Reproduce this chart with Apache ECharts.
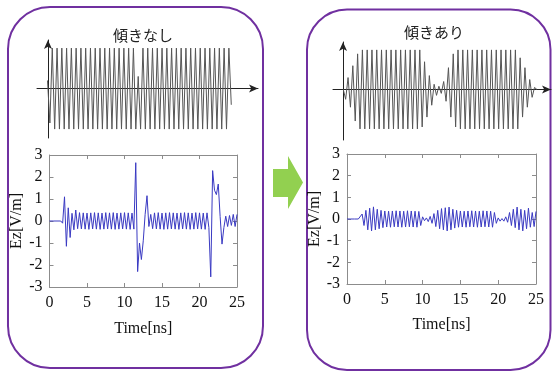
<!DOCTYPE html>
<html>
<head>
<meta charset="utf-8">
<script src="https://cdn.jsdelivr.net/npm/echarts@6/dist/echarts.min.js"></script>
<style>
html, body { margin: 0; padding: 0; background: #fff; }
#main { width: 552px; height: 373px; }
</style>
</head>
<body>
<div id="main"></div>
<script>
// panel titles
const titles = ['傾きなし', '傾きあり'];

// sketch waveforms (top of each panel), one value per half cycle
const sketchStep = 0.5;
const sketchNoTiltStart = -0.1;
const sketchNoTilt = [
  0.2, -0.85,
  1, -1, 1, -1, 1, -1, 1, -1, 1, -1, 1, -1, 1, -1, 1, -1, 1, -1, 1, -1, 1, -1, 1, -1,
  1, -1, 1, -1, 1, -1, 1, -1, 1, -1, 1, -1,
  0.3, -1,
  1, -1, 1, -1, 1, -1, 1, -1, 1, -1, 1, -1, 1, -1, 1, -1, 1, -1, 1, -1, 1, -1, 1, -1,
  1, -1, 1, -1, 1, -1, 1, -1, 1, -1, 1, -1,
  1, -0.4
];
const sketchTiltStart = 0.05;
const sketchTilt = [
  0, -0.25, 0.3, -0.45, 0.6, -0.8, 0.9, -1, 1,
  -1, 1, -1, 1, -1, 1, -1, 1, -1, 1, -1, 1, -1, 1, -1, 1, -1, 1, -1, 1, -1, 1, -1, 1,
  -0.95, 0.7, -0.7, 0.35, -0.4, 0.13, -0.15, 0.08, -0.1, 0.2, -0.3, 0.55, -0.7, 0.9, -0.95, 1,
  -1, 1, -1, 1, -1, 1, -1, 1, -1, 1, -1, 1, -1, 1, -1, 1, -1, 1, -1, 1, -1, 1, -1, 1,
  -1, 0.8, -0.7, 0.55, -0.45, 0.25, -0.2, 0.05, 0
];

// Ez [V/m] sampled every 0.25 ns, 0..25 ns
const timeStep = 0.25;
const ezNoTilt = [
  0, 0, 0, 0, 0, 0, 0, -0.1, 1.1, -1.15, 0.6, -0.75, 0.35, -0.4, 0.5, -0.35,
  0.38, -0.36, 0.37, -0.37, 0.36, -0.38, 0.37, -0.36, 0.38, -0.37, 0.37, -0.38, 0.36, -0.37, 0.38,
  -0.36, 0.37, -0.37, 0.38, -0.38, 0.36, -0.37, 0.37, -0.36, 0.38, -0.37, 0.37, -0.38, 0.36, -0.37,
  2.65, -2.3, -1.0, -1.75, -0.9, 0.3, 1.15, -0.25, 0.3,
  -0.35, 0.37, -0.36, 0.38, -0.37, 0.36, -0.38, 0.37, -0.37, 0.38, -0.36, 0.37, -0.37, 0.36, -0.38,
  0.37, -0.36, 0.38, -0.37, 0.37, -0.38, 0.36, -0.37, 0.38, -0.36, 0.37, -0.37, 0.36, -0.38,
  0.37, -0.3, -2.54, 2.29, 1.4, 1.2, 1.68, 0.2, -1.05, -0.3, 0.22, -0.25, 0.25, -0.2, 0.3, -0.25, 0.3
];
const ezTilt = [
  0, 0, 0, 0, 0, 0, 0, 0, 0.23, -0.3, 0.4, -0.5, 0.5, -0.55, 0.56, -0.5, 0.45, -0.45, 0.4, -0.4,
  0.37, -0.37, 0.36, -0.38, 0.37, -0.36, 0.38, -0.37, 0.37, -0.38, 0.36, -0.37, 0.38, -0.36, 0.37,
  -0.37, 0.36, -0.38,
  0.35, -0.3, 0.1, -0.08, 0.05, -0.12, 0.12, -0.2, 0.25, -0.35, 0.4, -0.45, 0.48, -0.5, 0.52, -0.55,
  0.55, -0.5, 0.45, -0.42, 0.4, -0.38,
  0.37, -0.37, 0.36, -0.38, 0.37, -0.36, 0.38, -0.37, 0.37, -0.38, 0.36, -0.37, 0.38, -0.36, 0.37,
  -0.37, 0.36, -0.38,
  0.3, -0.2, 0.05, -0.1, 0.02, -0.1, 0.1, -0.15, 0.3, -0.3, 0.45, -0.4, 0.55, -0.5, 0.45, -0.55,
  0.4, -0.45, 0.5, -0.38, 0.3, -0.35, 0.35
];

const purple = '#7030a0';
const green = '#92d050';
const boxColor = '#8c8c8c';
const waveColor = '#3a3ac2';
const serif = 'Liberation Serif';

function pairs(values, start, step) {
  return values.map((v, i) => [start + i * step, v]);
}

function sketchAxis(grid, min, max) {
  return {
    type: 'value', gridIndex: grid, min: min, max: max,
    axisLine: { onZero: true, symbol: ['none', 'arrow'], symbolSize: [6, 9], lineStyle: { color: '#222', width: 1 } },
    axisTick: { show: false }, axisLabel: { show: false }, splitLine: { show: false }
  };
}
function plotX(grid, top, gap) {
  return {
    type: 'value', gridIndex: grid, min: 0, max: 25, interval: 5,
    position: top ? 'top' : 'bottom',
    name: top ? '' : 'Time[ns]', nameLocation: 'middle', nameGap: gap,
    nameTextStyle: { fontFamily: serif, fontSize: 16, color: '#111' },
    axisLine: { onZero: false, lineStyle: { color: boxColor, width: 1 } },
    axisTick: { inside: true, length: 4, lineStyle: { color: boxColor } },
    axisLabel: { show: !top, fontFamily: serif, fontSize: 16, color: '#111', margin: 8 },
    splitLine: { show: false }
  };
}
function plotY(grid, right) {
  return {
    type: 'value', gridIndex: grid, min: -3, max: 3, interval: 1,
    position: right ? 'right' : 'left',
    name: right ? '' : 'Ez[V/m]', nameLocation: 'middle', nameGap: 21, nameRotate: 90,
    nameTextStyle: { fontFamily: serif, fontSize: 16, color: '#111' },
    axisLine: { onZero: false, lineStyle: { color: boxColor, width: 1 } },
    axisTick: { inside: true, length: 4, lineStyle: { color: boxColor } },
    axisLabel: { show: !right, fontFamily: serif, fontSize: 16, color: '#111', margin: 7 },
    splitLine: { show: false }
  };
}

const chart = echarts.init(document.getElementById('main'));
chart.setOption({
  animation: false,
  grid: [
    { left: 37, top: 40, width: 221, height: 98 },
    { left: 333, top: 42, width: 218, height: 98 },
    { left: 49.5, top: 155, width: 187.5, height: 132 },
    { left: 347, top: 154, width: 189, height: 130 }
  ],
  xAxis: [
    sketchAxis(0, -2.3, 44),
    sketchAxis(1, -2.1, 43.5),
    plotX(2, false, 34), plotX(2, true, 0),
    plotX(3, false, 33), plotX(3, true, 0)
  ],
  yAxis: [
    sketchAxis(0, -1.22, 1.2),
    sketchAxis(1, -1.28, 1.2),
    plotY(2, false), plotY(2, true),
    plotY(3, false), plotY(3, true)
  ],
  series: [
    { type: 'line', xAxisIndex: 0, yAxisIndex: 0, data: pairs(sketchNoTilt, sketchNoTiltStart, sketchStep),
      showSymbol: false, lineStyle: { color: '#555', width: 1 } },
    { type: 'line', xAxisIndex: 1, yAxisIndex: 1, data: pairs(sketchTilt, sketchTiltStart, sketchStep),
      showSymbol: false, lineStyle: { color: '#555', width: 1 } },
    { type: 'line', xAxisIndex: 2, yAxisIndex: 2, data: pairs(ezNoTilt, 0, timeStep),
      showSymbol: false, lineStyle: { color: waveColor, width: 1 } },
    { type: 'line', xAxisIndex: 4, yAxisIndex: 4, data: pairs(ezTilt, 0, timeStep),
      showSymbol: false, lineStyle: { color: waveColor, width: 1 } }
  ],
  graphic: [
    { type: 'rect', shape: { x: 8, y: 7, width: 255, height: 361, r: 42 },
      style: { fill: 'none', stroke: purple, lineWidth: 2 } },
    { type: 'rect', shape: { x: 307, y: 9.5, width: 243.5, height: 360.5, r: 40 },
      style: { fill: 'none', stroke: purple, lineWidth: 2 } },
    { type: 'polygon',
      shape: { points: [[273, 169], [288, 169], [288, 156], [303, 182.5], [288, 209], [288, 197], [273, 197]] },
      style: { fill: green } },
    { type: 'text', x: 143, y: 35.5,
      style: { text: titles[0], fontFamily: 'Noto Sans CJK JP', fontSize: 15, fill: '#222', align: 'center', verticalAlign: 'middle' } },
    { type: 'text', x: 434, y: 32,
      style: { text: titles[1], fontFamily: 'Noto Sans CJK JP', fontSize: 15, fill: '#222', align: 'center', verticalAlign: 'middle' } }
  ]
});
</script>
</body>
</html>
